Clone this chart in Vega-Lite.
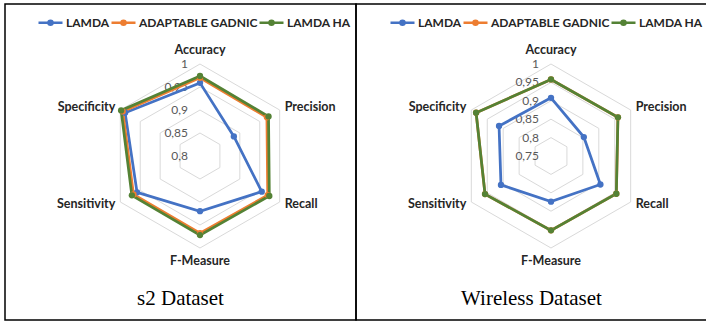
{
  "$schema": "https://vega.github.io/schema/vega-lite/v6.json",
  "background": "white",
  "padding": {"left": 4, "top": 3, "right": 0, "bottom": 2},
  "spacing": 0,
  "bounds": "flush",
  "config": {
    "view": {"stroke": "black", "strokeWidth": 1.5},
    "locale": {"number": {"decimal": ",", "thousands": ".", "grouping": [3], "currency": ["", " €"]}}
  },
  "resolve": {"legend": {"color": "independent"}},
  "datasets": {
    "metrics": [
      {"panel": "s2", "series": "LAMDA", "metric": "Accuracy", "idx": 0, "value": 0.959},
      {"panel": "s2", "series": "LAMDA", "metric": "Precision", "idx": 1, "value": 0.885},
      {"panel": "s2", "series": "LAMDA", "metric": "Recall", "idx": 2, "value": 0.955},
      {"panel": "s2", "series": "LAMDA", "metric": "F-Measure", "idx": 3, "value": 0.92},
      {"panel": "s2", "series": "LAMDA", "metric": "Sensitivity", "idx": 4, "value": 0.958},
      {"panel": "s2", "series": "LAMDA", "metric": "Specificity", "idx": 5, "value": 0.988},
      {"panel": "s2", "series": "ADAPTABLE GADNIC", "metric": "Accuracy", "idx": 0, "value": 0.97},
      {"panel": "s2", "series": "ADAPTABLE GADNIC", "metric": "Precision", "idx": 1, "value": 0.968},
      {"panel": "s2", "series": "ADAPTABLE GADNIC", "metric": "Recall", "idx": 2, "value": 0.97},
      {"panel": "s2", "series": "ADAPTABLE GADNIC", "metric": "F-Measure", "idx": 3, "value": 0.968},
      {"panel": "s2", "series": "ADAPTABLE GADNIC", "metric": "Sensitivity", "idx": 4, "value": 0.967},
      {"panel": "s2", "series": "ADAPTABLE GADNIC", "metric": "Specificity", "idx": 5, "value": 0.994},
      {"panel": "s2", "series": "LAMDA HA", "metric": "Accuracy", "idx": 0, "value": 0.974},
      {"panel": "s2", "series": "LAMDA HA", "metric": "Precision", "idx": 1, "value": 0.972},
      {"panel": "s2", "series": "LAMDA HA", "metric": "Recall", "idx": 2, "value": 0.974},
      {"panel": "s2", "series": "LAMDA HA", "metric": "F-Measure", "idx": 3, "value": 0.972},
      {"panel": "s2", "series": "LAMDA HA", "metric": "Sensitivity", "idx": 4, "value": 0.971},
      {"panel": "s2", "series": "LAMDA HA", "metric": "Specificity", "idx": 5, "value": 0.998},
      {"panel": "Wireless", "series": "LAMDA", "metric": "Accuracy", "idx": 0, "value": 0.908},
      {"panel": "Wireless", "series": "LAMDA", "metric": "Precision", "idx": 1, "value": 0.853},
      {"panel": "Wireless", "series": "LAMDA", "metric": "Recall", "idx": 2, "value": 0.905},
      {"panel": "Wireless", "series": "LAMDA", "metric": "F-Measure", "idx": 3, "value": 0.874},
      {"panel": "Wireless", "series": "LAMDA", "metric": "Sensitivity", "idx": 4, "value": 0.907},
      {"panel": "Wireless", "series": "LAMDA", "metric": "Specificity", "idx": 5, "value": 0.913},
      {"panel": "Wireless", "series": "ADAPTABLE GADNIC", "metric": "Accuracy", "idx": 0, "value": 0.958},
      {"panel": "Wireless", "series": "ADAPTABLE GADNIC", "metric": "Precision", "idx": 1, "value": 0.96},
      {"panel": "Wireless", "series": "ADAPTABLE GADNIC", "metric": "Recall", "idx": 2, "value": 0.955},
      {"panel": "Wireless", "series": "ADAPTABLE GADNIC", "metric": "F-Measure", "idx": 3, "value": 0.952},
      {"panel": "Wireless", "series": "ADAPTABLE GADNIC", "metric": "Sensitivity", "idx": 4, "value": 0.957},
      {"panel": "Wireless", "series": "ADAPTABLE GADNIC", "metric": "Specificity", "idx": 5, "value": 0.985},
      {"panel": "Wireless", "series": "LAMDA HA", "metric": "Accuracy", "idx": 0, "value": 0.958},
      {"panel": "Wireless", "series": "LAMDA HA", "metric": "Precision", "idx": 1, "value": 0.96},
      {"panel": "Wireless", "series": "LAMDA HA", "metric": "Recall", "idx": 2, "value": 0.955},
      {"panel": "Wireless", "series": "LAMDA HA", "metric": "F-Measure", "idx": 3, "value": 0.952},
      {"panel": "Wireless", "series": "LAMDA HA", "metric": "Sensitivity", "idx": 4, "value": 0.957},
      {"panel": "Wireless", "series": "LAMDA HA", "metric": "Specificity", "idx": 5, "value": 0.985}
    ],
    "rings": [
      {"panel": "s2", "level": 0.85, "idx": [0, 1, 2, 3, 4, 5]},
      {"panel": "s2", "level": 0.9, "idx": [0, 1, 2, 3, 4, 5]},
      {"panel": "s2", "level": 0.95, "idx": [0, 1, 2, 3, 4, 5]},
      {"panel": "s2", "level": 1, "idx": [0, 1, 2, 3, 4, 5]},
      {"panel": "Wireless", "level": 0.8, "idx": [0, 1, 2, 3, 4, 5]},
      {"panel": "Wireless", "level": 0.85, "idx": [0, 1, 2, 3, 4, 5]},
      {"panel": "Wireless", "level": 0.9, "idx": [0, 1, 2, 3, 4, 5]},
      {"panel": "Wireless", "level": 0.95, "idx": [0, 1, 2, 3, 4, 5]},
      {"panel": "Wireless", "level": 1, "idx": [0, 1, 2, 3, 4, 5]}
    ],
    "ticks": [
      {"panel": "s2", "level": 0.8},
      {"panel": "s2", "level": 0.85},
      {"panel": "s2", "level": 0.9},
      {"panel": "s2", "level": 0.95},
      {"panel": "s2", "level": 1},
      {"panel": "Wireless", "level": 0.75},
      {"panel": "Wireless", "level": 0.8},
      {"panel": "Wireless", "level": 0.85},
      {"panel": "Wireless", "level": 0.9},
      {"panel": "Wireless", "level": 0.95},
      {"panel": "Wireless", "level": 1}
    ]
  },
  "hconcat": [
    {
      "width": 351,
      "height": 316,
      "title": {"text": "s2 Dataset", "orient": "bottom", "anchor": "middle", "baseline": "alphabetic", "offset": -15, "font": "Liberation Serif", "fontSize": 21, "fontWeight": "normal", "color": "black"},
      "encoding": {
        "x": {"field": "x", "type": "quantitative", "scale": {"domain": [-2.1196, 1.6957], "nice": false, "zero": false}, "axis": null},
        "y": {"field": "y", "type": "quantitative", "scale": {"domain": [-1.7826, 1.6522], "nice": false, "zero": false}, "axis": null}
      },
      "layer": [
        {
          "data": {"name": "rings"},
          "transform": [
            {"filter": "datum.panel == 's2'"},
            {"flatten": ["idx"]},
            {"calculate": "(datum.level - 0.8) / 0.2", "as": "r"},
            {"calculate": "datum.r * sin(datum.idx * PI / 3)", "as": "x"},
            {"calculate": "datum.r * cos(datum.idx * PI / 3)", "as": "y"}
          ],
          "mark": {"type": "line", "interpolate": "linear-closed", "stroke": "#d9d9d9", "strokeWidth": 1},
          "encoding": {"detail": {"field": "level"}, "order": {"field": "idx", "type": "quantitative"}}
        },
        {
          "data": {"name": "ticks"},
          "transform": [
            {"filter": "datum.panel == 's2'"},
            {"calculate": "0", "as": "x"},
            {"calculate": "(datum.level - 0.8) / 0.2", "as": "y"}
          ],
          "mark": {"type": "text", "align": "right", "baseline": "middle", "dx": -12, "font": "Lato", "fontSize": 12, "fill": "#595959"},
          "encoding": {"text": {"field": "level", "type": "quantitative", "format": "~g"}}
        },
        {
          "data": {"name": "metrics"},
          "transform": [
            {"filter": "datum.panel == 's2'"},
            {"calculate": "(datum.value - 0.8) / 0.2", "as": "r"},
            {"calculate": "datum.r * sin(datum.idx * PI / 3)", "as": "x"},
            {"calculate": "datum.r * cos(datum.idx * PI / 3)", "as": "y"}
          ],
          "mark": {"type": "line", "interpolate": "linear-closed", "strokeWidth": 2.75},
          "encoding": {
            "color": {
              "field": "series", "type": "nominal",
              "scale": {"domain": ["LAMDA", "ADAPTABLE GADNIC", "LAMDA HA"], "range": ["#4472C4", "#ED7D31", "#548235"]},
              "legend": {"orient": "none", "legendX": 32, "legendY": 5, "direction": "horizontal", "title": null, "padding": 0,
                "symbolType": "M-1,0L1,0M0.17,0A0.17,0.17,0,1,1,-0.17,0A0.17,0.17,0,1,1,0.17,0Z", "symbolSize": 576, "symbolStrokeWidth": 2.5,
                "labelFont": "Lato", "labelFontWeight": "bold", "labelFontSize": 12, "labelColor": "#262626", "labelOffset": 2, "columnPadding": -4, "labelLimit": 0,
                "encode": {"symbols": {"update": {"fill": {"scale": "color", "field": "value"}}}}}
            },
            "detail": {"field": "series"},
            "order": {"field": "idx", "type": "quantitative"}
          }
        },
        {
          "data": {"name": "metrics"},
          "transform": [
            {"filter": "datum.panel == 's2'"},
            {"calculate": "(datum.value - 0.8) / 0.2", "as": "r"},
            {"calculate": "datum.r * sin(datum.idx * PI / 3)", "as": "x"},
            {"calculate": "datum.r * cos(datum.idx * PI / 3)", "as": "y"}
          ],
          "mark": {"type": "point", "filled": true, "size": 40, "opacity": 1},
          "encoding": {"color": {"field": "series", "type": "nominal"}}
        },
        {
          "data": {"name": "metrics"},
          "transform": [
            {"filter": "datum.panel == 's2' && datum.series == 'LAMDA'"},
            {"calculate": "sin(datum.idx * PI / 3)", "as": "x"},
            {"calculate": "cos(datum.idx * PI / 3)", "as": "y"}
          ],
          "mark": {"type": "text", "font": "Lato", "fontWeight": "bold", "fontSize": 12.5, "fill": "#262626", "baseline": "middle",
            "align": {"expr": "datum.idx == 0 || datum.idx == 3 ? 'center' : (datum.idx < 3 ? 'left' : 'right')"},
            "dx": {"expr": "datum.idx == 0 || datum.idx == 3 ? 0 : (datum.idx < 3 ? 5 : -5)"},
            "dy": {"expr": "datum.idx == 0 ? -14 : (datum.idx == 3 ? 13 : ((datum.idx == 1 || datum.idx == 5) ? -3 : 2))"}},
          "encoding": {"text": {"field": "metric"}}
        }
      ]
    },
    {
      "width": 351,
      "height": 316,
      "title": {"text": "Wireless Dataset", "orient": "bottom", "anchor": "middle", "baseline": "alphabetic", "offset": -15, "font": "Liberation Serif", "fontSize": 21, "fontWeight": "normal", "color": "black"},
      "encoding": {
        "x": {"field": "x", "type": "quantitative", "scale": {"domain": [-2.1196, 1.6957], "nice": false, "zero": false}, "axis": null},
        "y": {"field": "y", "type": "quantitative", "scale": {"domain": [-1.7826, 1.6522], "nice": false, "zero": false}, "axis": null}
      },
      "layer": [
        {
          "data": {"name": "rings"},
          "transform": [
            {"filter": "datum.panel == 'Wireless'"},
            {"flatten": ["idx"]},
            {"calculate": "(datum.level - 0.75) / 0.25", "as": "r"},
            {"calculate": "datum.r * sin(datum.idx * PI / 3)", "as": "x"},
            {"calculate": "datum.r * cos(datum.idx * PI / 3)", "as": "y"}
          ],
          "mark": {"type": "line", "interpolate": "linear-closed", "stroke": "#d9d9d9", "strokeWidth": 1},
          "encoding": {"detail": {"field": "level"}, "order": {"field": "idx", "type": "quantitative"}}
        },
        {
          "data": {"name": "ticks"},
          "transform": [
            {"filter": "datum.panel == 'Wireless'"},
            {"calculate": "0", "as": "x"},
            {"calculate": "(datum.level - 0.75) / 0.25", "as": "y"}
          ],
          "mark": {"type": "text", "align": "right", "baseline": "middle", "dx": -12, "font": "Lato", "fontSize": 12, "fill": "#595959"},
          "encoding": {"text": {"field": "level", "type": "quantitative", "format": "~g"}}
        },
        {
          "data": {"name": "metrics"},
          "transform": [
            {"filter": "datum.panel == 'Wireless'"},
            {"calculate": "(datum.value - 0.75) / 0.25", "as": "r"},
            {"calculate": "datum.r * sin(datum.idx * PI / 3)", "as": "x"},
            {"calculate": "datum.r * cos(datum.idx * PI / 3)", "as": "y"}
          ],
          "mark": {"type": "line", "interpolate": "linear-closed", "strokeWidth": 2.75},
          "encoding": {
            "color": {
              "field": "series", "type": "nominal",
              "scale": {"domain": ["LAMDA", "ADAPTABLE GADNIC", "LAMDA HA"], "range": ["#4472C4", "#ED7D31", "#548235"]},
              "legend": {"orient": "none", "legendX": 33, "legendY": 5, "direction": "horizontal", "title": null, "padding": 0,
                "symbolType": "M-1,0L1,0M0.17,0A0.17,0.17,0,1,1,-0.17,0A0.17,0.17,0,1,1,0.17,0Z", "symbolSize": 576, "symbolStrokeWidth": 2.5,
                "labelFont": "Lato", "labelFontWeight": "bold", "labelFontSize": 12, "labelColor": "#262626", "labelOffset": 2, "columnPadding": -4, "labelLimit": 0,
                "encode": {"symbols": {"update": {"fill": {"scale": "color", "field": "value"}}}}}
            },
            "detail": {"field": "series"},
            "order": {"field": "idx", "type": "quantitative"}
          }
        },
        {
          "data": {"name": "metrics"},
          "transform": [
            {"filter": "datum.panel == 'Wireless'"},
            {"calculate": "(datum.value - 0.75) / 0.25", "as": "r"},
            {"calculate": "datum.r * sin(datum.idx * PI / 3)", "as": "x"},
            {"calculate": "datum.r * cos(datum.idx * PI / 3)", "as": "y"}
          ],
          "mark": {"type": "point", "filled": true, "size": 40, "opacity": 1},
          "encoding": {"color": {"field": "series", "type": "nominal"}}
        },
        {
          "data": {"name": "metrics"},
          "transform": [
            {"filter": "datum.panel == 'Wireless' && datum.series == 'LAMDA'"},
            {"calculate": "sin(datum.idx * PI / 3)", "as": "x"},
            {"calculate": "cos(datum.idx * PI / 3)", "as": "y"}
          ],
          "mark": {"type": "text", "font": "Lato", "fontWeight": "bold", "fontSize": 12.5, "fill": "#262626", "baseline": "middle",
            "align": {"expr": "datum.idx == 0 || datum.idx == 3 ? 'center' : (datum.idx < 3 ? 'left' : 'right')"},
            "dx": {"expr": "datum.idx == 0 || datum.idx == 3 ? 0 : (datum.idx < 3 ? 5 : -5)"},
            "dy": {"expr": "datum.idx == 0 ? -14 : (datum.idx == 3 ? 13 : ((datum.idx == 1 || datum.idx == 5) ? -3 : 2))"}},
          "encoding": {"text": {"field": "metric"}}
        }
      ]
    }
  ]
}
